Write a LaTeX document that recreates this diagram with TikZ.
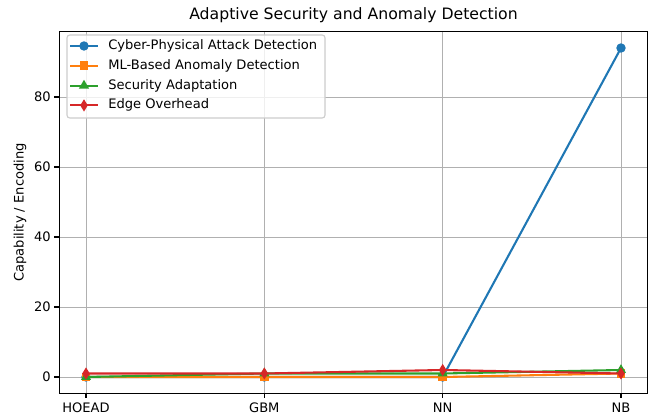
\documentclass[tikz,border=0pt]{standalone}
\usepackage{fontspec}
\setmainfont{DejaVu Sans}
\usetikzlibrary{shapes.geometric}
\definecolor{tabblue}{HTML}{1F77B4}
\definecolor{taborange}{HTML}{FF7F0E}
\definecolor{tabgreen}{HTML}{2CA02C}
\definecolor{tabred}{HTML}{D62728}
\definecolor{gridgray}{HTML}{B0B0B0}
\colorlet{attack}{tabblue}
\colorlet{anomaly}{taborange}
\colorlet{adapt}{tabgreen}
\colorlet{overhead}{tabred}
\tikzset{
  series/.style={line width=1.5pt,line join=round},
  gridline/.style={draw=gridgray,line width=0.7pt},
  spine/.style={draw=black,line width=0.8pt},
  tickmark/.style={draw=black,line width=0.8pt},
  dot/.style={circle,inner sep=0pt,minimum size=6.8pt},
  sqr/.style={rectangle,inner sep=0pt,minimum size=6.2pt},
  tri/.style={regular polygon,regular polygon sides=3,inner sep=0pt,minimum size=8.4pt},
  dia/.style={diamond,inner sep=0pt,minimum width=5.6pt,minimum height=9pt},
  legendframe/.style={draw=black!20,fill=white,fill opacity=0.8,rounded corners=2pt,line width=0.8pt},
}

\begin{document}
\begin{tikzpicture}[x=0.72pt,y=-0.72pt,font=\fontsize{9.4}{11.3}\selectfont]
\useasboundingbox (0,0) rectangle (648,419);
\node[font=\fontsize{11.3}{13.6}\selectfont] (title) at (353.5,15) {Adaptive Security and Anomaly Detection};
\node[rotate=90] (ylabel) at (20,212.5) {Capability / Encoding};

% data area: one unit per method, y in capability units
\begin{scope}[xshift=61.92pt,yshift=-271.44pt,x=128.4pt,y=2.52pt]
\foreach \i/\lab in {0/HOEAD,1/GBM,2/NN,3/NB}
{
  \draw[gridline] (\i,-4.7) -- (\i,98.7);
  \draw[tickmark] (\i,-4.7) -- ++(0pt,-3.5pt);
  \node[below=6.5pt,inner sep=0pt] (xt-\i) at (\i,-4.7) {\lab};
}
\foreach \v in {0,20,...,80}
{
  \draw[gridline] (-0.15,\v) -- (3.15,\v);
  \draw[tickmark] (-0.15,\v) -- ++(-3.5pt,0pt);
  \node[left=6pt,inner sep=0pt] (yt-\v) at (-0.15,\v) {\v};
}
\foreach \s/\mk/\vals in {attack/dot/{0,0,0,94}, anomaly/sqr/{0,0,0,1},
                          adapt/tri/{0,1,1,2}, overhead/dia/{1,1,2,1}}
{
  \foreach \v [count=\i from 0] in \vals
    \coordinate (\s-\i) at (\i,\v);
  \draw[series,\s] (\s-0) -- (\s-1) -- (\s-2) -- (\s-3);
  \foreach \i in {0,...,3}
    \node[\mk,fill=\s] (\s-m\i) at (\s-\i) {};
}
\draw[spine] (-0.15,-4.7) rectangle (3.15,98.7);
\end{scope}

% legend
\draw[legendframe] (67,35) rectangle (325,118);
\foreach \s/\mk/\txt [count=\k from 0] in {attack/dot/Cyber-Physical Attack Detection,
    anomaly/sqr/ML-Based Anomaly Detection, adapt/tri/Security Adaptation,
    overhead/dia/Edge Overhead}
{
  \coordinate (\s-l) at (70,46+19.8*\k);
  \coordinate (\s-r) at (98,46+19.8*\k);
  \draw[series,\s] (\s-l) -- (\s-r);
  \node[\mk,fill=\s] (\s-key) at (84,46+19.8*\k) {};
  \node[anchor=west,inner sep=0pt] (\s-text) at (108,46+19.8*\k) {\txt};
}
\end{tikzpicture}
\end{document}
